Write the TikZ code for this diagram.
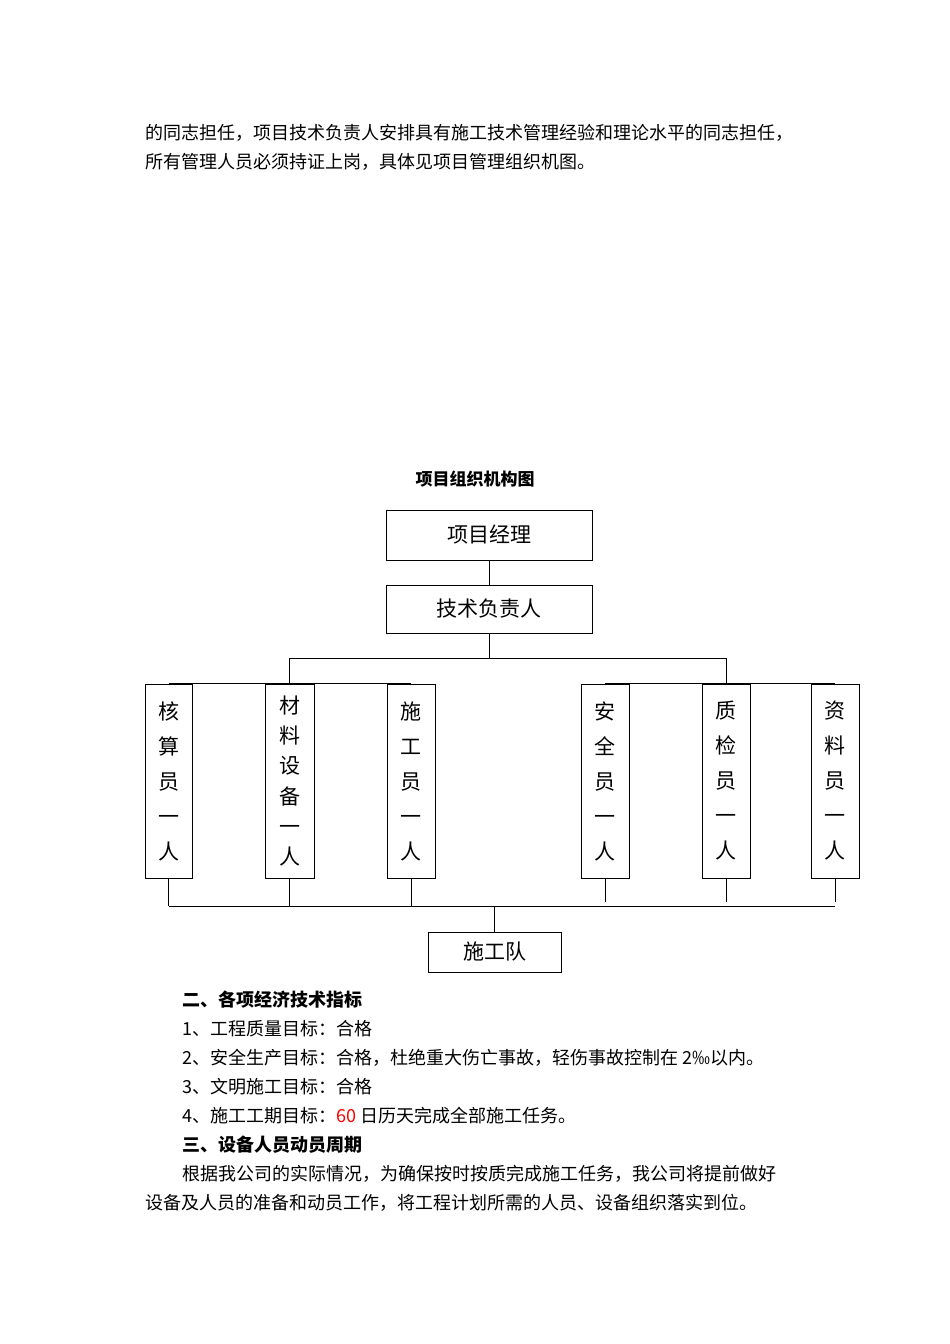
\documentclass[tikz,border=0pt]{standalone}
\usepackage{fontspec}
\setmainfont{Noto Sans CJK SC}
\begin{document}
\begin{tikzpicture}[x=1pt,y=-1pt,
 bx/.style={draw,line width=1pt,inner sep=0},
 ln/.style={line width=0.9pt},
 tx/.style={anchor=west,font=\fontsize{18}{18}\selectfont,inner sep=0},
 ch/.style={font=\fontsize{21}{21}\selectfont,inner sep=0}]
\useasboundingbox (0,0) rectangle (950,1344);
\node[tx] (t1) at (145,133) {的同志担任，项目技术负责人安排具有施工技术管理经验和理论水平的同志担任，};
\node[tx] (t2) at (145,162) {所有管理人员必须持证上岗，具体见项目管理组织机图。};
\node[inner sep=0,font=\fontsize{17}{18}\selectfont\bfseries] (title) at (475,479) {项目组织机构图};
\node[bx,minimum width=206,minimum height=50] (pm) at (489,535) {};
\node[ch] at (pm) {项目经理};
\node[bx,minimum width=206,minimum height=48] (tech) at (489,609) {};
\node[ch] at (tech) {技术负责人};
\draw[ln] (pm.south) -- (tech.north);
\foreach \n/\x/\w in {b1/168.5/47,b2/289.5/49,b3/411/48,b4/605/48,b5/726/48,b6/835/48}
  \node[bx,minimum width=\w,minimum height=194] (\n) at (\x,781) {};
\node[ch,align=center,font=\fontsize{21}{35}\selectfont] at ([yshift=0]b1) {核\\算\\员\\一\\人};
\node[ch,align=center,font=\fontsize{21}{35}\selectfont] at (b3) {施\\工\\员\\一\\人};
\node[ch,align=center,font=\fontsize{21}{35}\selectfont] at (b4) {安\\全\\员\\一\\人};
\node[ch,align=center,font=\fontsize{21}{35}\selectfont] at (b5) {质\\检\\员\\一\\人};
\node[ch,align=center,font=\fontsize{21}{35}\selectfont] at (b6) {资\\料\\员\\一\\人};
\node[ch,align=center,font=\fontsize{21}{30.3}\selectfont] at (b2) {材\\料\\设\\备\\一\\人};
\coordinate (tj) at (489,658);
\draw[ln] (tech.south) -- (tj);
\draw[ln] (b2.north |- tj) -- (b5.north |- tj);
\draw[ln] (b2.north |- tj) -- (b2.north);
\draw[ln] (b5.north |- tj) -- (b5.north);
\draw[ln] (b1.north) -- (b3.north);
\draw[ln] (b4.north) -- (b6.north);
\node[bx,minimum width=133,minimum height=40] (team) at (494.5,952) {};
\node[ch] at (team) {施工队};
\coordinate (bj) at (team.north |- 0,906);
\draw[ln] (b1.south |- bj) -- (b6.south |- bj);
\foreach \n in {b1,b2,b3} \draw[ln] (\n.south) -- (\n.south |- bj);
\foreach \n in {b4,b5,b6} \draw[ln] (\n.south) -- ([yshift=4]\n.south |- bj);
\draw[ln] (bj) -- (team.north);
\node[tx,font=\fontsize{18}{18}\selectfont\bfseries] (s2) at (182,1000) {二、各项经济技术指标};
\node[tx] (l1) at (182,1029) {1、工程质量目标：合格};
\node[tx] (l2) at (182,1058) {2、安全生产目标：合格，杜绝重大伤亡事故，轻伤事故控制在 2‰以内。};
\node[tx] (l3) at (182,1087) {3、文明施工目标：合格};
\node[tx] (l4) at (182,1116) {4、施工工期目标：\textcolor{red}{60} 日历天完成全部施工任务。};
\node[tx,font=\fontsize{18}{18}\selectfont\bfseries] (s3) at (182,1145) {三、设备人员动员周期};
\node[tx] (p1) at (182,1174) {根据我公司的实际情况，为确保按时按质完成施工任务，我公司将提前做好};
\node[tx] (p2) at (145,1203) {设备及人员的准备和动员工作，将工程计划所需的人员、设备组织落实到位。};
\end{tikzpicture}
\end{document}
